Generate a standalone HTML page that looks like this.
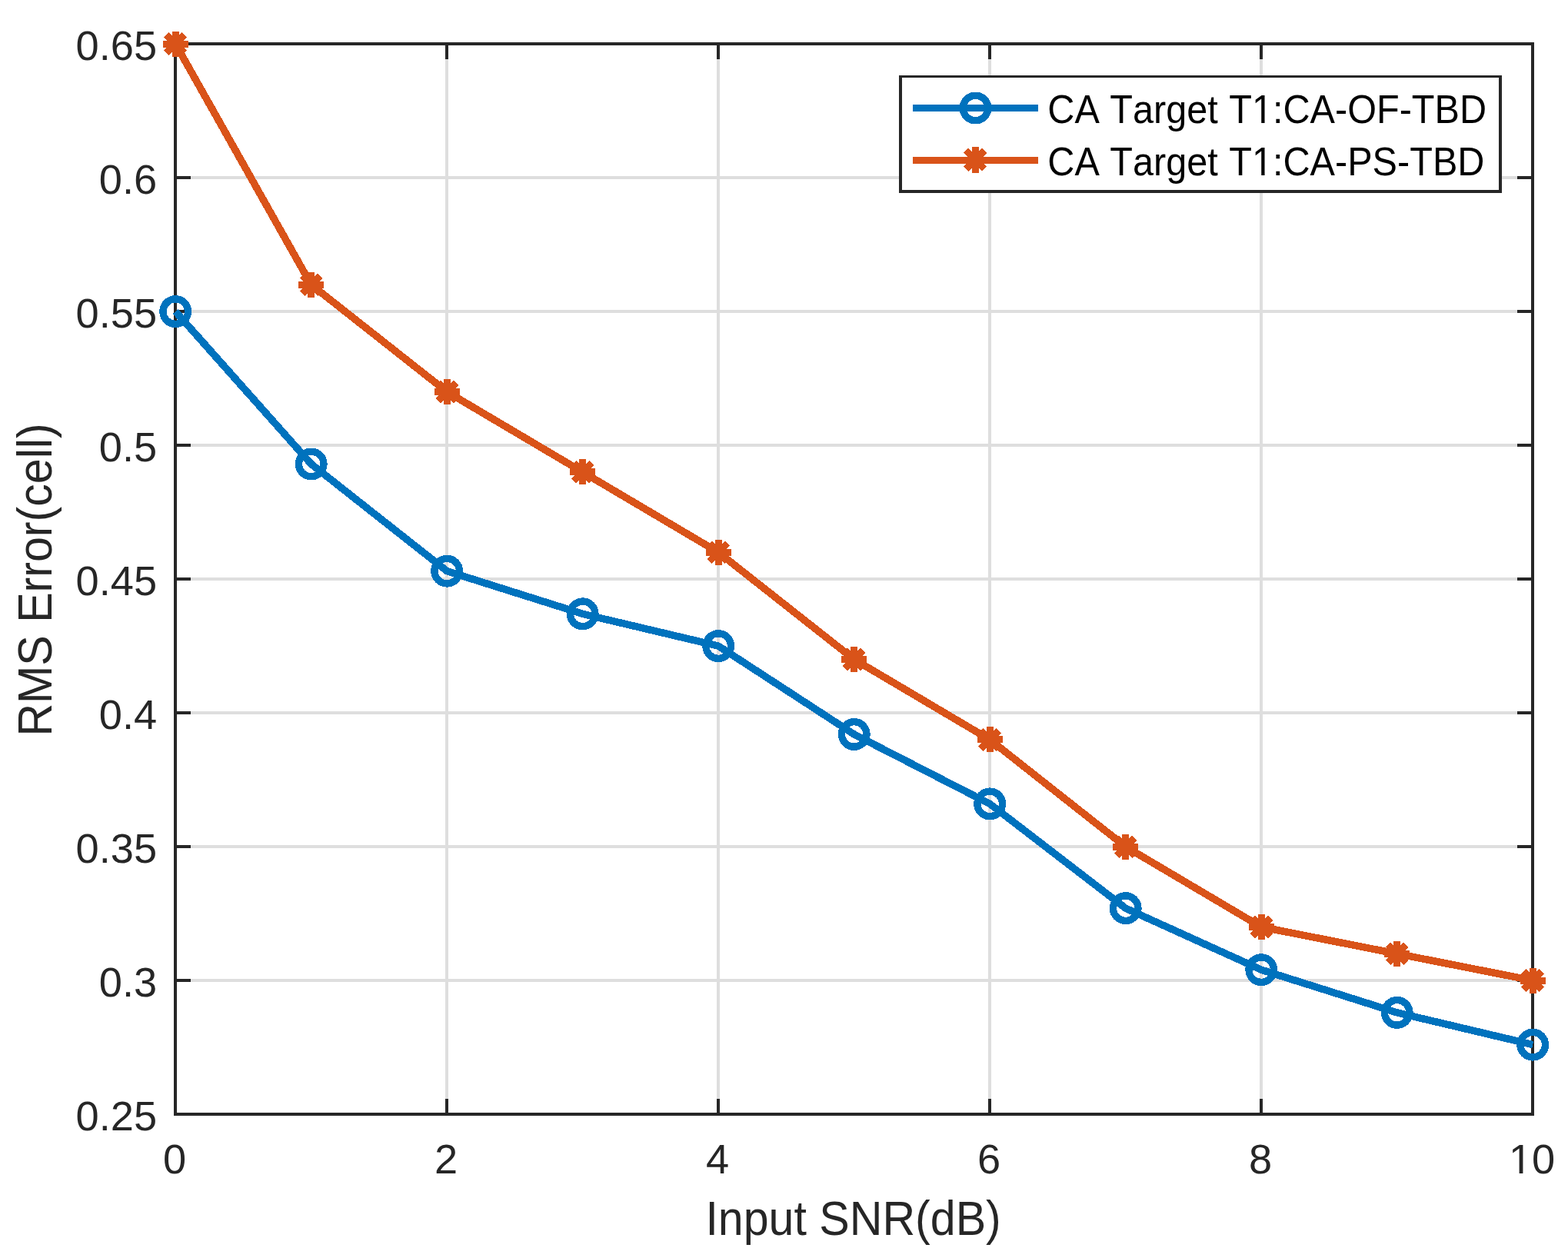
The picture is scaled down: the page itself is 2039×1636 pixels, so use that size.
<!DOCTYPE html>
<html lang="en"><head><meta charset="utf-8"><title>RMS Error vs Input SNR</title>
<style>
html,body{margin:0;padding:0;background:#fff;}
body{width:2039px;height:1636px;overflow:hidden;}
svg{display:block;}
line,rect,circle,path,polyline{shape-rendering:crispEdges;}
rect.aa{shape-rendering:geometricPrecision;}
text{font-family:"Liberation Sans","Helvetica","Arial",sans-serif;font-kerning:none;}
.tk{font-size:54.40px;fill:#262626;}
.lb{font-size:62.90px;fill:#262626;}
.lg{font-size:52.10px;fill:#000;}
</style></head><body>
<svg width="2039" height="1636" viewBox="0 0 2039 1636">
<rect x="0" y="0" width="2039" height="1636" fill="#fff"/>
<g stroke="#dedede" stroke-width="3.75" fill="none">
<line x1="581.20" y1="57.10" x2="581.20" y2="1449.10"/>
<line x1="934.20" y1="57.10" x2="934.20" y2="1449.10"/>
<line x1="1287.20" y1="57.10" x2="1287.20" y2="1449.10"/>
<line x1="1640.20" y1="57.10" x2="1640.20" y2="1449.10"/>
<line x1="228.20" y1="1275.10" x2="1993.20" y2="1275.10"/>
<line x1="228.20" y1="1101.10" x2="1993.20" y2="1101.10"/>
<line x1="228.20" y1="927.10" x2="1993.20" y2="927.10"/>
<line x1="228.20" y1="753.10" x2="1993.20" y2="753.10"/>
<line x1="228.20" y1="579.10" x2="1993.20" y2="579.10"/>
<line x1="228.20" y1="405.10" x2="1993.20" y2="405.10"/>
<line x1="228.20" y1="231.10" x2="1993.20" y2="231.10"/>
</g>
<g stroke="#262626" stroke-width="3.75" fill="none" stroke-linecap="butt">
<rect x="228.20" y="57.10" width="1765.00" height="1392.00"/>
<line x1="581.20" y1="1449.10" x2="581.20" y2="1429.30"/>
<line x1="581.20" y1="57.10" x2="581.20" y2="76.90"/>
<line x1="934.20" y1="1449.10" x2="934.20" y2="1429.30"/>
<line x1="934.20" y1="57.10" x2="934.20" y2="76.90"/>
<line x1="1287.20" y1="1449.10" x2="1287.20" y2="1429.30"/>
<line x1="1287.20" y1="57.10" x2="1287.20" y2="76.90"/>
<line x1="1640.20" y1="1449.10" x2="1640.20" y2="1429.30"/>
<line x1="1640.20" y1="57.10" x2="1640.20" y2="76.90"/>
<line x1="228.20" y1="1275.10" x2="248.00" y2="1275.10"/>
<line x1="1993.20" y1="1275.10" x2="1973.40" y2="1275.10"/>
<line x1="228.20" y1="1101.10" x2="248.00" y2="1101.10"/>
<line x1="1993.20" y1="1101.10" x2="1973.40" y2="1101.10"/>
<line x1="228.20" y1="927.10" x2="248.00" y2="927.10"/>
<line x1="1993.20" y1="927.10" x2="1973.40" y2="927.10"/>
<line x1="228.20" y1="753.10" x2="248.00" y2="753.10"/>
<line x1="1993.20" y1="753.10" x2="1973.40" y2="753.10"/>
<line x1="228.20" y1="579.10" x2="248.00" y2="579.10"/>
<line x1="1993.20" y1="579.10" x2="1973.40" y2="579.10"/>
<line x1="228.20" y1="405.10" x2="248.00" y2="405.10"/>
<line x1="1993.20" y1="405.10" x2="1973.40" y2="405.10"/>
<line x1="228.20" y1="231.10" x2="248.00" y2="231.10"/>
<line x1="1993.20" y1="231.10" x2="1973.40" y2="231.10"/>
</g>
<text class="tk" transform="translate(204.15 1470.20) scale(0.9970 1)" text-anchor="end">0.25</text>
<text class="tk" transform="translate(204.15 1296.20) scale(0.9970 1)" text-anchor="end">0.3</text>
<text class="tk" transform="translate(204.15 1122.20) scale(0.9970 1)" text-anchor="end">0.35</text>
<text class="tk" transform="translate(204.15 948.20) scale(0.9970 1)" text-anchor="end">0.4</text>
<text class="tk" transform="translate(204.15 774.20) scale(0.9970 1)" text-anchor="end">0.45</text>
<text class="tk" transform="translate(204.15 600.20) scale(0.9970 1)" text-anchor="end">0.5</text>
<text class="tk" transform="translate(204.15 426.20) scale(0.9970 1)" text-anchor="end">0.55</text>
<text class="tk" transform="translate(204.15 252.20) scale(0.9970 1)" text-anchor="end">0.6</text>
<text class="tk" transform="translate(204.15 78.20) scale(0.9970 1)" text-anchor="end">0.65</text>
<text class="tk" transform="translate(227.10 1526.20) scale(0.9970 1)" text-anchor="middle">0</text>
<text class="tk" transform="translate(580.10 1526.20) scale(0.9970 1)" text-anchor="middle">2</text>
<text class="tk" transform="translate(933.10 1526.20) scale(0.9970 1)" text-anchor="middle">4</text>
<text class="tk" transform="translate(1286.10 1526.20) scale(0.9970 1)" text-anchor="middle">6</text>
<text class="tk" transform="translate(1639.10 1526.20) scale(0.9970 1)" text-anchor="middle">8</text>
<text class="tk" transform="translate(1992.10 1526.20) scale(0.9970 1)" text-anchor="middle">10</text>
<text class="lb" transform="translate(1109.60 1606.00) scale(0.9400 1)" text-anchor="middle">Input SNR(dB)</text>
<text class="lb" transform="translate(67.00 754.00) rotate(-90) scale(0.9400 1)" text-anchor="middle">RMS Error(cell)</text>
<polyline points="228.20,405.10 404.70,603.46 581.20,742.66 757.70,798.34 934.20,840.10 1110.70,954.94 1287.20,1045.42 1463.70,1181.14 1640.20,1261.18 1816.70,1316.86 1993.20,1358.62" stroke="#0072BD" stroke-width="9.50" fill="none" stroke-linejoin="miter" stroke-linecap="butt"/>
<polyline points="228.20,57.10 404.70,370.30 581.20,509.50 757.70,613.90 934.20,718.30 1110.70,857.50 1287.20,961.90 1463.70,1101.10 1640.20,1205.50 1816.70,1240.30 1993.20,1275.10" stroke="#D95319" stroke-width="9.50" fill="none" stroke-linejoin="miter" stroke-linecap="butt"/>
<circle cx="228.20" cy="405.10" r="16.27" stroke="#0072BD" stroke-width="9.40" fill="none"/>
<circle cx="404.70" cy="603.46" r="16.27" stroke="#0072BD" stroke-width="9.40" fill="none"/>
<circle cx="581.20" cy="742.66" r="16.27" stroke="#0072BD" stroke-width="9.40" fill="none"/>
<circle cx="757.70" cy="798.34" r="16.27" stroke="#0072BD" stroke-width="9.40" fill="none"/>
<circle cx="934.20" cy="840.10" r="16.27" stroke="#0072BD" stroke-width="9.40" fill="none"/>
<circle cx="1110.70" cy="954.94" r="16.27" stroke="#0072BD" stroke-width="9.40" fill="none"/>
<circle cx="1287.20" cy="1045.42" r="16.27" stroke="#0072BD" stroke-width="9.40" fill="none"/>
<circle cx="1463.70" cy="1181.14" r="16.27" stroke="#0072BD" stroke-width="9.40" fill="none"/>
<circle cx="1640.20" cy="1261.18" r="16.27" stroke="#0072BD" stroke-width="9.40" fill="none"/>
<circle cx="1816.70" cy="1316.86" r="16.27" stroke="#0072BD" stroke-width="9.40" fill="none"/>
<circle cx="1993.20" cy="1358.62" r="16.27" stroke="#0072BD" stroke-width="9.40" fill="none"/>
<path d="M211.70 57.10L244.70 57.10M216.53 45.43L239.87 68.77M228.20 40.60L228.20 73.60M239.87 45.43L216.53 68.77" stroke="#D95319" stroke-width="9.00" fill="none" stroke-linecap="butt"/>
<path d="M388.20 370.30L421.20 370.30M393.03 358.63L416.37 381.97M404.70 353.80L404.70 386.80M416.37 358.63L393.03 381.97" stroke="#D95319" stroke-width="9.00" fill="none" stroke-linecap="butt"/>
<path d="M564.70 509.50L597.70 509.50M569.53 497.83L592.87 521.17M581.20 493.00L581.20 526.00M592.87 497.83L569.53 521.17" stroke="#D95319" stroke-width="9.00" fill="none" stroke-linecap="butt"/>
<path d="M741.20 613.90L774.20 613.90M746.03 602.23L769.37 625.57M757.70 597.40L757.70 630.40M769.37 602.23L746.03 625.57" stroke="#D95319" stroke-width="9.00" fill="none" stroke-linecap="butt"/>
<path d="M917.70 718.30L950.70 718.30M922.53 706.63L945.87 729.97M934.20 701.80L934.20 734.80M945.87 706.63L922.53 729.97" stroke="#D95319" stroke-width="9.00" fill="none" stroke-linecap="butt"/>
<path d="M1094.20 857.50L1127.20 857.50M1099.03 845.83L1122.37 869.17M1110.70 841.00L1110.70 874.00M1122.37 845.83L1099.03 869.17" stroke="#D95319" stroke-width="9.00" fill="none" stroke-linecap="butt"/>
<path d="M1270.70 961.90L1303.70 961.90M1275.53 950.23L1298.87 973.57M1287.20 945.40L1287.20 978.40M1298.87 950.23L1275.53 973.57" stroke="#D95319" stroke-width="9.00" fill="none" stroke-linecap="butt"/>
<path d="M1447.20 1101.10L1480.20 1101.10M1452.03 1089.43L1475.37 1112.77M1463.70 1084.60L1463.70 1117.60M1475.37 1089.43L1452.03 1112.77" stroke="#D95319" stroke-width="9.00" fill="none" stroke-linecap="butt"/>
<path d="M1623.70 1205.50L1656.70 1205.50M1628.53 1193.83L1651.87 1217.17M1640.20 1189.00L1640.20 1222.00M1651.87 1193.83L1628.53 1217.17" stroke="#D95319" stroke-width="9.00" fill="none" stroke-linecap="butt"/>
<path d="M1800.20 1240.30L1833.20 1240.30M1805.03 1228.63L1828.37 1251.97M1816.70 1223.80L1816.70 1256.80M1828.37 1228.63L1805.03 1251.97" stroke="#D95319" stroke-width="9.00" fill="none" stroke-linecap="butt"/>
<path d="M1976.70 1275.10L2009.70 1275.10M1981.53 1263.43L2004.87 1286.77M1993.20 1258.60L1993.20 1291.60M2004.87 1263.43L1981.53 1286.77" stroke="#D95319" stroke-width="9.00" fill="none" stroke-linecap="butt"/>
<rect x="1169" y="98" width="784" height="153" fill="#262626"/>
<rect x="1173" y="101" width="776" height="146" fill="#fff"/>
<line x1="1187" y1="140.50" x2="1350" y2="140.50" stroke="#0072BD" stroke-width="9"/>
<circle cx="1268.50" cy="140.50" r="16.27" stroke="#0072BD" stroke-width="9.40" fill="none"/>
<line x1="1187" y1="208.50" x2="1350" y2="208.50" stroke="#D95319" stroke-width="9"/>
<rect x="1264" y="191" width="9" height="34" fill="#D95319"/>
<path d="M1256.18 195.68L1280.22 219.72M1256.18 219.72L1280.22 195.68" stroke="#D95319" stroke-width="9" fill="none"/>
<text class="lg" transform="translate(1362.30 160.00) scale(0.9330 1)" text-anchor="start">CA Target <tspan dx="1.07">T1:CA-OF-TBD</tspan></text>
<text class="lg" transform="translate(1362.30 228.20) scale(0.9330 1)" text-anchor="start">CA Target <tspan dx="1.07">T1:CA-PS-TBD</tspan></text>
<rect class="aa" x="1630.50" y="156.00" width="9.74" height="4.50" fill="#fff"/>
<rect class="aa" x="1644.54" y="156.00" width="8.96" height="4.50" fill="#fff"/>
<rect class="aa" x="1630.50" y="224.00" width="9.74" height="4.50" fill="#fff"/>
<rect class="aa" x="1644.54" y="224.00" width="8.96" height="4.50" fill="#fff"/>
<rect class="aa" x="1965.50" y="1522.00" width="10.12" height="4.50" fill="#fff"/>
<rect class="aa" x="1980.42" y="1522.00" width="10.08" height="4.50" fill="#fff"/>
</svg></body></html>
